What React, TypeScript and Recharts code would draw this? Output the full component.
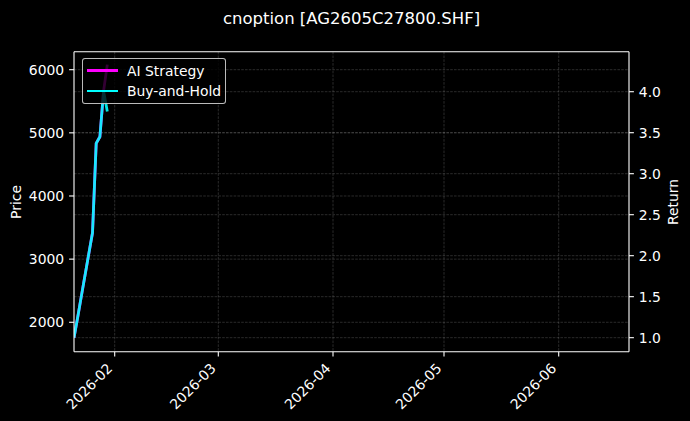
import React from 'react';
import { LineChart, Line, XAxis, YAxis, CartesianGrid, Legend } from 'recharts';

// ---- data ----
const dates = ['2026-01-21', '2026-01-22', '2026-01-23', '2026-01-26', '2026-01-27', '2026-01-28', '2026-01-29', '2026-01-30'];
const aiStrategy = [1.0, 1.25, 1.51, 2.28, 3.37, 3.45, 4.01, 4.33];
const buyAndHold = [1.0, 1.25, 1.51, 2.28, 3.37, 3.45, 4.01, 3.76];
const seriesNames = ['AI Strategy', 'Buy-and-Hold'];
const seriesColors = ['#ff00ff', '#00ffff'];
const xTickMonths = ['2026-02', '2026-03', '2026-04', '2026-05', '2026-06'];
const xRange = ['2026-01-21', '2026-06-20'];
const priceTicks = [2000, 3000, 4000, 5000, 6000];
const priceDomain = [1534, 6285];
const returnTicks = [1.0, 1.5, 2.0, 2.5, 3.0, 3.5, 4.0];
const returnDomain = [0.829, 4.488];
const title = 'cnoption [AG2605C27800.SHF]';

const toTs = (s: string) => {
  const [y, m, d] = s.split('-').map(Number);
  return Date.UTC(y, m - 1, d || 1);
};

const data = dates.map((d, i) => ({ t: toTs(d), ai: aiStrategy[i], bh: buyAndHold[i] }));
const xTicks = xTickMonths.map(toTs);
const xDomain = xRange.map(toTs);

const FONT = 'DejaVu Sans, Verdana, sans-serif';
const FS = 13.9;
const LW = 2.8;

const fmtMonth = (v: number) => {
  const d = new Date(v);
  return `${d.getUTCFullYear()}-${String(d.getUTCMonth() + 1).padStart(2, '0')}`;
};

const DateTick = (props: any) => {
  const { x, y, payload } = props;
  return (
    <g transform={`translate(${x - 1.5},${y + 7.8})`}>
      <text transform="rotate(-45)" textAnchor="end" fill="#fff" fontSize={FS} fontFamily={FONT}>
        {fmtMonth(payload.value)}
      </text>
    </g>
  );
};

const LegendBox = () => (
  <div
    style={{
      width: 144,
      height: 46,
      boxSizing: 'border-box',
      border: '1px solid rgba(220,220,220,0.85)',
      borderRadius: 3,
      background: 'rgba(0,0,0,0.8)',
      position: 'relative',
      fontFamily: FONT,
      fontSize: FS,
      color: '#fff',
    }}
  >
    {seriesNames.map((n, i) => (
      <div key={n} style={{ position: 'absolute', left: 0, top: 11.4 + i * 20.3 - 9, height: 18, width: '100%' }}>
        <div style={{ position: 'absolute', left: 4.3, top: 9 - LW / 2, width: 30.7, height: LW, background: seriesColors[i] }} />
        <div style={{ position: 'absolute', left: 44.3, top: 0, lineHeight: '18px', whiteSpace: 'nowrap' }}>{n}</div>
      </div>
    ))}
  </div>
);

const axisLineStyle = { stroke: '#ffffff', strokeWidth: 1.1, strokeOpacity: 1 };

export default function App() {
  return (
    <div
      style={{
        position: 'absolute',
        left: 0,
        top: 0,
        width: 690,
        height: 421,
        background: '#000',
        fontFamily: FONT,
      }}
    >
      <div
        style={{
          position: 'absolute',
          left: 351.5,
          top: 18.3,
          transform: 'translate(-50%,-50%)',
          color: '#fff',
          fontSize: 16.5,
          whiteSpace: 'nowrap',
        }}
      >
        {title}
      </div>
      <div
        style={{
          position: 'absolute',
          left: 16,
          top: 201.7,
          transform: 'translate(-50%,-50%) rotate(-90deg)',
          color: '#fff',
          fontSize: FS,
          whiteSpace: 'nowrap',
        }}
      >
        Price
      </div>
      <div
        style={{
          position: 'absolute',
          left: 672.5,
          top: 201.7,
          transform: 'translate(-50%,-50%) rotate(-90deg)',
          color: '#fff',
          fontSize: FS,
          whiteSpace: 'nowrap',
        }}
      >
        Return
      </div>
      <LineChart
        width={690}
        height={421}
        data={data}
        margin={{ top: 50.7, right: 0, bottom: 0, left: 0 }}
        style={{ position: 'absolute', left: 0, top: 0 }}
      >
        <CartesianGrid
          yAxisId="left"
          xAxisId="bottom"
          stroke="#ffffff"
          strokeOpacity={0.28}
          strokeWidth={0.6}
          strokeDasharray="2.6 1.2"
          horizontalValues={priceTicks}
          verticalValues={xTicks}
        />
        <CartesianGrid
          yAxisId="right"
          xAxisId="bottom"
          vertical={false}
          stroke="#ffffff"
          strokeOpacity={0.28}
          strokeWidth={0.6}
          strokeDasharray="2.6 1.2"
          horizontalValues={returnTicks}
        />
        <XAxis
          xAxisId="bottom"
          dataKey="t"
          type="number"
          scale="time"
          domain={xDomain}
          ticks={xTicks}
          allowDataOverflow
          height={69.3}
          tickSize={4.9}
          tickMargin={4.9}
          stroke="#ffffff"
          axisLine={axisLineStyle}
          tickLine={axisLineStyle}
          tick={<DateTick />}
          interval={0}
        />
        <XAxis
          xAxisId="top"
          dataKey="t"
          type="number"
          orientation="top"
          domain={xDomain}
          allowDataOverflow
          height={1}
          stroke="#ffffff"
          tick={false}
          tickLine={false}
          axisLine={axisLineStyle}
        />
        <YAxis
          yAxisId="left"
          orientation="left"
          type="number"
          domain={priceDomain}
          ticks={priceTicks}
          allowDataOverflow
          width={74}
          tickSize={4.9}
          tickMargin={4.9}
          interval={0}
          stroke="#ffffff"
          axisLine={axisLineStyle}
          tickLine={axisLineStyle}
          tick={{ fill: '#fff', fontSize: FS, fontFamily: FONT }}
        />
        <YAxis
          yAxisId="right"
          orientation="right"
          type="number"
          domain={returnDomain}
          ticks={returnTicks}
          allowDataOverflow
          width={61}
          tickSize={4.9}
          tickMargin={4.9}
          interval={0}
          stroke="#ffffff"
          tickFormatter={(v: number) => v.toFixed(1)}
          axisLine={axisLineStyle}
          tickLine={axisLineStyle}
          tick={{ fill: '#fff', fontSize: FS, fontFamily: FONT }}
        />
        <Line
          xAxisId="bottom"
          yAxisId="right"
          dataKey="ai"
          name={seriesNames[0]}
          stroke={seriesColors[0]}
          strokeWidth={LW}
          dot={false}
          activeDot={false}
          type="linear"
          isAnimationActive={false}
        />
        <Line
          xAxisId="bottom"
          yAxisId="right"
          dataKey="bh"
          name={seriesNames[1]}
          stroke={seriesColors[1]}
          strokeOpacity={0.9}
          strokeWidth={LW}
          dot={false}
          activeDot={false}
          type="linear"
          isAnimationActive={false}
        />
        <Legend
          layout="horizontal"
          verticalAlign="middle"
          align="center"
          wrapperStyle={{ left: 81.7, top: 58.3, width: 144, height: 46 }}
          content={() => <LegendBox />}
        />
      </LineChart>
    </div>
  );
}
